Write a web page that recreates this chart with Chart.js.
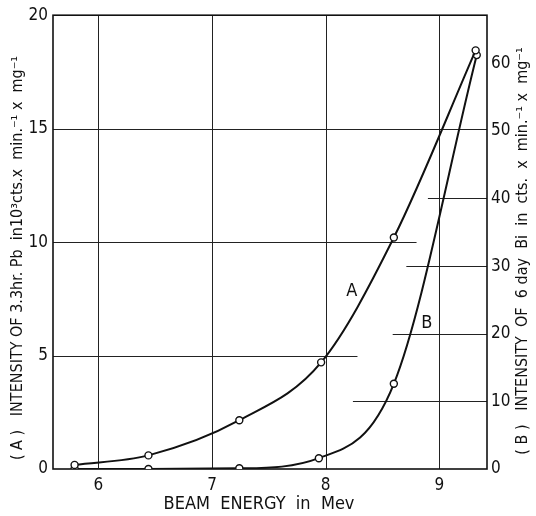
<!DOCTYPE html>
<html>
<head>
<meta charset="utf-8">
<script src="https://cdn.jsdelivr.net/npm/chart.js@4"></script>
<style>
  html, body { margin: 0; padding: 0; background: #fff; }
  #wrap { width: 536px; height: 516px; }
</style>
</head>
<body>
<div id="wrap"><canvas id="beam-chart" width="536" height="516"></canvas></div>
<script>
// beam energy (Mev) at each measured point
const energyA = [5.79, 6.44, 7.24, 7.96, 8.60, 9.32]
const energyB = [5.79, 6.44, 7.24, 7.94, 8.60, 9.33]
// (A) 3.3 hr Pb, 10^3 cts/min/mg  -- left axis
const pbIntensity = [0.18, 0.6, 2.15, 4.7, 10.2, 18.45]
// (B) 6 day Bi, cts/min/mg  -- right axis
const biIntensity = [0, 0, 0.1, 1.6, 12.6, 61.2]

const xTicks = [6, 7, 8, 9]
const leftTicks = [0, 5, 10, 15, 20]
const rightTicks = [0, 10, 20, 30, 40, 50, 60]

const FONT = "'Liberation Sans Narrow', 'DejaVu Sans Condensed', sans-serif"
const ink = '#111'

const toPoints = (xs, ys) => xs.map((x, i) => ({ x: x, y: ys[i] }))

// hand-drawn style grid: some lines only run part way across
const gridPlugin = {
  id: 'paperGrid',
  beforeDatasetsDraw(chart) {
    const { ctx, chartArea: a, scales } = chart
    const xs = scales.x, yl = scales.yA, yr = scales.yB
    ctx.save()
    ctx.strokeStyle = '#222'
    ctx.lineWidth = 1
    xTicks.forEach(v => {
      const px = Math.round(xs.getPixelForValue(v)) + 0.5
      ctx.beginPath(); ctx.moveTo(px, a.top); ctx.lineTo(px, a.bottom); ctx.stroke()
    })
    // left-scale lines run from the left edge
    const leftRuns = [[15, 9.42], [10, 8.80], [5, 8.28]]
    leftRuns.forEach(([v, end]) => {
      const py = Math.round(yl.getPixelForValue(v)) + 0.5
      ctx.beginPath(); ctx.moveTo(a.left, py); ctx.lineTo(xs.getPixelForValue(end), py); ctx.stroke()
    })
    // right-scale lines run in from the right edge
    const rightRuns = [[40, 8.90], [30, 8.71], [20, 8.59], [10, 8.24]]
    rightRuns.forEach(([v, start]) => {
      const py = Math.round(yr.getPixelForValue(v)) + 0.5
      ctx.beginPath(); ctx.moveTo(xs.getPixelForValue(start), py); ctx.lineTo(a.right, py); ctx.stroke()
    })
    ctx.lineWidth = 1.6
    ctx.strokeStyle = ink
    ctx.strokeRect(a.left, a.top, a.right - a.left, a.bottom - a.top)
    ctx.restore()
  },
  afterDraw(chart) {
    const { ctx, chartArea: a, scales } = chart
    ctx.save()
    ctx.fillStyle = ink
    ctx.font = '18px ' + FONT
    ctx.textAlign = 'center'
    ctx.textBaseline = 'middle'
    ctx.fillText('A', scales.x.getPixelForValue(8.23), scales.yA.getPixelForValue(7.84))
    ctx.fillText('B', scales.x.getPixelForValue(8.89), scales.yB.getPixelForValue(21.5))

    ctx.font = '18px ' + FONT
    ctx.fillText('BEAM  ENERGY  in  Mev', 259, 504)

    ctx.font = '16px ' + FONT
    ctx.save()
    ctx.translate(18, 258)
    ctx.rotate(-Math.PI / 2)
    ctx.fillText('( A )   INTENSITY OF 3.3hr. Pb  in10³cts.x  min.⁻¹ x  mg⁻¹', 0, 0)
    ctx.restore()

    ctx.save()
    ctx.translate(523, 251)
    ctx.rotate(-Math.PI / 2)
    ctx.fillText('( B )   INTENSITY  OF  6 day  Bi  in  cts.  x  min.⁻¹ x  mg⁻¹', 0, 0)
    ctx.restore()
    ctx.restore()
  }
}

const lineStyle = {
  borderColor: ink,
  borderWidth: 2,
  pointRadius: 3.5,
  pointBackgroundColor: '#fff',
  pointBorderColor: ink,
  pointBorderWidth: 1.4,
  cubicInterpolationMode: 'monotone',
  showLine: true,
  fill: false
}

const tickFont = { family: FONT, size: 17 }

new Chart(document.getElementById('beam-chart'), {
  type: 'scatter',
  data: {
    datasets: [
      Object.assign({ label: 'A', data: toPoints(energyA, pbIntensity), yAxisID: 'yA' }, lineStyle),
      Object.assign({ label: 'B', data: toPoints(energyB, biIntensity), yAxisID: 'yB' }, lineStyle)
    ]
  },
  options: {
    responsive: false,
    animation: false,
    layout: { padding: { top: 15, left: 0, right: 0, bottom: 0 } },
    plugins: { legend: { display: false }, tooltip: { enabled: false } },
    scales: {
      x: {
        type: 'linear', min: 5.6, max: 9.42,
        grid: { display: false, drawTicks: false },
        border: { display: false },
        afterFit: s => { s.height = 47 },
        afterBuildTicks: s => { s.ticks = xTicks.map(v => ({ value: v })) },
        ticks: { font: tickFont, color: ink, padding: 6 }
      },
      yA: {
        type: 'linear', position: 'left', min: 0, max: 20,
        grid: { display: false, drawTicks: false },
        border: { display: false },
        afterFit: s => { s.width = 53 },
        afterBuildTicks: s => { s.ticks = leftTicks.map(v => ({ value: v })) },
        ticks: { font: tickFont, color: ink, padding: 5 }
      },
      yB: {
        type: 'linear', position: 'right', min: 0, max: 67.1,
        grid: { display: false, drawTicks: false },
        border: { display: false },
        afterFit: s => { s.width = 49 },
        afterBuildTicks: s => { s.ticks = rightTicks.map(v => ({ value: v })) },
        ticks: { font: tickFont, color: ink, padding: 4 }
      }
    }
  },
  plugins: [gridPlugin]
})
</script>
</body>
</html>
